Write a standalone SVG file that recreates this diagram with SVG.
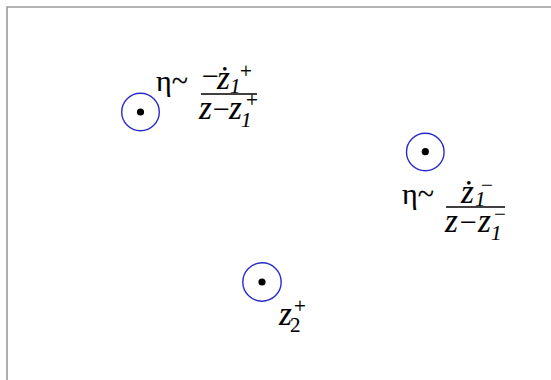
<svg xmlns="http://www.w3.org/2000/svg" width="551" height="380" viewBox="0 0 551 380">
<style>
.ring{fill:none;stroke:#2a2ac8;stroke-width:1.4}
.dot{fill:#000}
.t{font-family:"Liberation Serif","Times New Roman",serif;fill:#000;stroke:#000;stroke-width:0.15}
.z{font-style:italic;font-size:33px}
.op{font-size:30px}
.g{font-size:30px}
.sup{font-size:21px}
.sub{font-style:italic;font-size:21px}
.num{font-size:21px}
.bar{stroke:#000;stroke-width:1.4}
.frame{fill:none;stroke:#9a9a9a;stroke-width:1.6}
</style>
<rect width="551" height="380" fill="#fff"/>
<path class="frame" d="M7,380 V7 H551"/>
<g id="node-z1plus">
<circle class="ring" cx="140.5" cy="112" r="18.8"/>
<circle class="dot" cx="140.5" cy="112" r="3.6"/>
<g class="t">
<text class="g" x="156" y="91">η~</text>
<text class="op" x="202" y="86">−</text>
<text class="z" x="217" y="89">ż</text>
<text class="sup" x="240" y="78">+</text>
<text class="sub" x="230" y="93">1</text>
<line class="bar" x1="201" y1="94" x2="257" y2="94"/>
<text class="z" x="199" y="119">z</text>
<text class="op" x="213" y="119">−</text>
<text class="z" x="229" y="119">z</text>
<text class="sup" x="246" y="107">+</text>
<text class="sub" x="241" y="127">1</text>
</g>
</g>
<g id="node-z1minus">
<circle class="ring" cx="425.3" cy="152" r="18.8"/>
<circle class="dot" cx="425.3" cy="151.7" r="3.6"/>
<g class="t">
<text class="g" x="402" y="204">η~</text>
<text class="z" x="461" y="203">ż</text>
<text class="sup" x="481" y="192">−</text>
<text class="sub" x="475" y="206">1</text>
<line class="bar" x1="446" y1="207" x2="505" y2="207"/>
<text class="z" x="445" y="232">z</text>
<text class="op" x="460" y="232">−</text>
<text class="z" x="478" y="232">z</text>
<text class="sup" x="494" y="221">−</text>
<text class="sub" x="491" y="240">1</text>
</g>
</g>
<g id="node-z2plus">
<circle class="ring" cx="262" cy="282" r="19.2"/>
<circle class="dot" cx="262" cy="282" r="3.6"/>
<g class="t">
<text class="z" x="279" y="325">z</text>
<text class="sup" x="294" y="313">+</text>
<text class="num" x="290" y="332">2</text>
</g>
</g>
<g id="connectors"></g>
</svg>
